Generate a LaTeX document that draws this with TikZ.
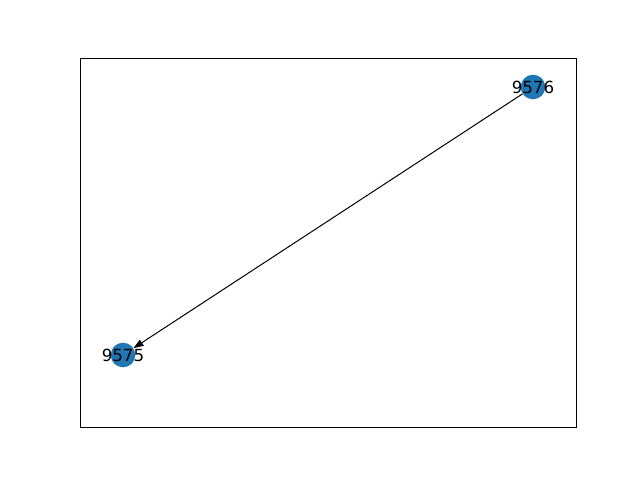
\documentclass[tikz,border=0pt]{standalone}
\usepackage{fontspec}
\setmainfont{DejaVu Sans}
\usetikzlibrary{arrows.meta}
\definecolor{nodeblue}{HTML}{1F77B4}
\begin{document}
\begin{tikzpicture}[x=1pt,y=-1pt,
  graphnode/.style={circle,fill=nodeblue,minimum size=24.6pt,inner sep=0pt},
  lbl/.style={font=\fontsize{16.7}{19}\selectfont,inner sep=0pt},
  edge/.style={line width=1pt,-{Stealth[length=10pt,width=7pt,inset=0pt]}}]
\useasboundingbox (0,0) rectangle (640,480);
\draw[line width=0.9pt] (80,58) rectangle (576,427);
\node[graphnode] (n9576) at (533,87) {};
\node[graphnode] (n9575) at (123,355) {};
\draw[edge] (n9576) -- (n9575);
\node[lbl] (t9576) at (533,87) {9576};
\node[lbl] (t9575) at (123,355) {9575};
\end{tikzpicture}
\end{document}
